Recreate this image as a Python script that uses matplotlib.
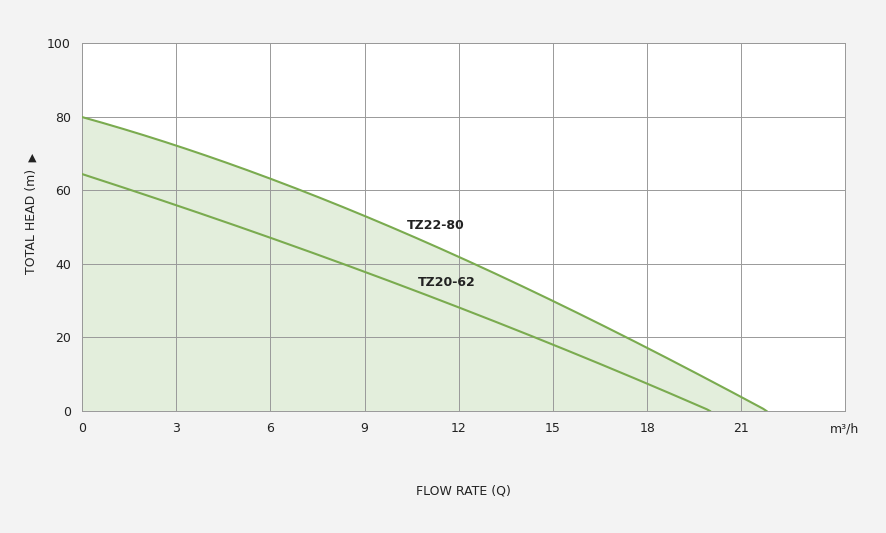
import numpy as np
import matplotlib.pyplot as plt

# curve points
flow_80 = [0, 3, 6, 9, 12, 15, 18, 21, 21.8]
head_80 = [80, 72, 63, 53.5, 41.6, 30, 17, 4, 0]
flow_62 = [0, 3, 6, 9, 12, 15, 18, 20]
head_62 = [64.4, 56, 47, 38, 28, 18, 7.6, 0]
x_ticks = [0, 3, 6, 9, 12, 15, 18, 21]
y_ticks = [0, 20, 40, 60, 80, 100]


def smooth(fx, fy):
    # smooth line through the read points
    c = np.polyfit(fx, fy, 3)
    xs = np.linspace(fx[0], fx[-1], 200)
    ys = np.polyval(c, xs)
    ys[-1] = fy[-1]
    return xs, ys


green = '#7aab4f'
fig = plt.figure(figsize=(8.86, 5.33), dpi=100, facecolor='#f3f3f3')
ax = fig.add_axes([0.0926, 0.2289, 0.8611, 0.6901])
ax.set_facecolor('white')

x80, y80 = smooth(flow_80, head_80)
x62, y62 = smooth(flow_62, head_62)
ax.fill_between(x80, 0, y80, color='#e3eedc', zorder=1)
ax.plot(x80, y80, color=green, lw=1.5, zorder=3)
ax.plot(x62, y62, color=green, lw=1.5, zorder=3)

ax.set_xlim(0, 24.3)
ax.set_ylim(0, 100)
ax.set_xticks(x_ticks)
ax.set_yticks(y_ticks)
ax.grid(True, color='#999999', lw=0.7, zorder=2)
ax.set_axisbelow(False)
for s in ax.spines.values():
    s.set_color('#999999')
    s.set_linewidth(0.7)
ax.tick_params(length=0, labelsize=9, colors='#222222', pad=8)

ax.text(10.34, 50.3, 'TZ22-80', fontsize=9, fontweight='bold', color='#222222', va='center')
ax.text(10.7, 34.8, 'TZ20-62', fontsize=9, fontweight='bold', color='#222222', va='center')
ax.text(24.3, -5.8, 'm³/h', fontsize=9, color='#222222', ha='center')
fig.text(0.523, 0.072, 'FLOW RATE (Q)', fontsize=9, ha='center', color='#222222')
fig.text(0.036, 0.585, 'TOTAL HEAD (m)', fontsize=9, rotation=90, va='center', ha='center', color='#222222')
fig.text(0.036, 0.705, '▲', fontsize=8, ha='center', va='center', color='#222222')

fig.savefig('out.png', dpi=100, facecolor=fig.get_facecolor())
